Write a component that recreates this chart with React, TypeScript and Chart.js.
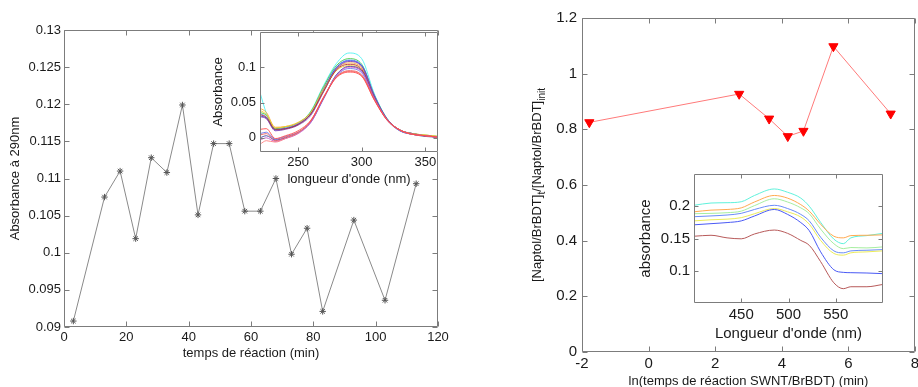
import React, { useEffect, useRef } from 'react';
import { Chart, registerables } from 'chart.js';

Chart.register(...registerables);

const FONT = "'Liberation Sans', Arial, Helvetica, sans-serif";
const TEXT = '#1a1a1a';
const BOX = '#7c7c7c';

// ---------- Left main panel ----------
const TIME_MIN = [3, 13, 18, 23, 28, 33, 38, 43, 48, 53, 58, 63, 68, 73, 78, 83, 93, 103, 113];
const ABS_290 = [0.0908, 0.1075, 0.111, 0.1019, 0.1128, 0.1108, 0.1199, 0.1051, 0.1147, 0.1147, 0.1056, 0.1056, 0.11, 0.0998, 0.1033, 0.0921, 0.1044, 0.0936, 0.1093];
const LEFT_X_TICKS = [0, 20, 40, 60, 80, 100, 120];
const LEFT_Y_TICKS = [0.09, 0.095, 0.1, 0.105, 0.11, 0.115, 0.12, 0.125, 0.13];

// ---------- Left inset (spectra) ----------
const WL1 = [220, 225, 232, 240, 250, 260, 270, 280, 290, 300, 310, 320, 330, 340, 350, 360];
const SPEC_CYAN = [0.064, 0.035, 0.012, 0.013, 0.02, 0.038, 0.074, 0.105, 0.12, 0.112, 0.062, 0.027, 0.011, 0.006, 0.004, 0.002];
const SPEC_ORANGE = [0.042, 0.036, 0.015, 0.016, 0.021, 0.036, 0.07, 0.098, 0.106, 0.099, 0.058, 0.026, 0.011, 0.006, 0.004, 0.002];
const SPEC_GREEN = [0.036, 0.032, 0.013, 0.015, 0.021, 0.037, 0.072, 0.102, 0.112, 0.104, 0.06, 0.027, 0.011, 0.006, 0.003, 0.002];
const SPEC_LBLUE = [0.034, 0.03, 0.012, 0.014, 0.02, 0.035, 0.069, 0.1, 0.11, 0.103, 0.06, 0.027, 0.011, 0.006, 0.003, 0.001];
const SPEC_BLUE = [0.031, 0.028, 0.011, 0.013, 0.019, 0.034, 0.068, 0.099, 0.109, 0.102, 0.059, 0.026, 0.011, 0.006, 0.003, 0.001];
const SPEC_DRED = [0.033, 0.029, 0.012, 0.013, 0.019, 0.034, 0.066, 0.096, 0.104, 0.097, 0.057, 0.026, 0.011, 0.005, 0.003, 0.001];
const SPEC_GOLD = [0.039, 0.033, 0.014, 0.016, 0.022, 0.036, 0.068, 0.095, 0.102, 0.096, 0.057, 0.026, 0.011, 0.006, 0.004, 0.002];
const SPEC_PURPLE = [0.03, 0.027, 0.01, 0.012, 0.018, 0.032, 0.065, 0.097, 0.108, 0.101, 0.059, 0.026, 0.011, 0.006, 0.003, 0.001];
const SPEC_RED1 = [0.012, 0.013, -0.001, 0.003, 0.01, 0.025, 0.057, 0.085, 0.093, 0.087, 0.053, 0.025, 0.011, 0.005, 0.003, 0.001];
const SPEC_RED2 = [0.004, 0.006, -0.004, 0.001, 0.008, 0.024, 0.057, 0.086, 0.095, 0.089, 0.054, 0.025, 0.011, 0.005, 0.003, 0.001];
const SPEC_BLUE2 = [0.006, 0.008, -0.002, 0.002, 0.008, 0.022, 0.055, 0.087, 0.098, 0.092, 0.055, 0.025, 0.01, 0.005, 0.003, 0.001];
const SPEC_MAGENTA = [-0.003, 0.0, -0.005, -0.001, 0.006, 0.022, 0.056, 0.088, 0.1, 0.094, 0.056, 0.026, 0.011, 0.005, 0.003, 0.001];
const SPEC_SALMON = [-0.009, -0.004, -0.006, -0.001, 0.007, 0.024, 0.058, 0.086, 0.094, 0.088, 0.054, 0.025, 0.011, 0.005, 0.003, 0.001];
const SPEC_NAVY = [0.0, 0.003, -0.003, 0.0, 0.007, 0.023, 0.056, 0.089, 0.101, 0.095, 0.057, 0.026, 0.01, 0.005, 0.002, 0.001];
const INSET1_SERIES = [SPEC_RED1, SPEC_RED2, SPEC_SALMON, SPEC_MAGENTA, SPEC_BLUE2, SPEC_NAVY, SPEC_DRED, SPEC_GOLD, SPEC_PURPLE, SPEC_BLUE, SPEC_LBLUE, SPEC_ORANGE, SPEC_GREEN, SPEC_CYAN];
const INSET1_COLORS = ['#ff4a4a', '#e86060', '#ff8080', '#c858c8', '#6a74ec', '#40409e', '#b83030', '#ecc830', '#8448b8', '#3a4adc', '#6a98ff', '#ffab30', '#40cc40', '#50f2f2'];
const INSET1_X_TICKS = [250, 300, 350];
const INSET1_Y_TICKS = [0, 0.05, 0.1];

// ---------- Right main panel ----------
const LN_TIME = [-1.78, 2.72, 3.62, 4.18, 4.65, 5.55, 7.27];
const RATIO = [0.825, 0.927, 0.838, 0.775, 0.794, 1.098, 0.856];
const RIGHT_X_TICKS = [-2, 0, 2, 4, 6, 8];
const RIGHT_Y_TICKS = [0, 0.2, 0.4, 0.6, 0.8, 1, 1.2];
const RIGHT_Y_TITLE_PARTS = [
  { text: '[Naptol/BrBDT]', sub: false },
  { text: 't', sub: true },
  { text: '/[Naptol/BrBDT]', sub: false },
  { text: 'init', sub: true },
];

// ---------- Right inset (spectra) ----------
const WL2 = [400, 418, 435, 450, 464, 485, 499, 513, 522, 534, 548, 558, 566, 583, 600];
const VIS_CYAN = [0.2015, 0.205, 0.2055, 0.207, 0.2167, 0.2268, 0.2217, 0.2126, 0.2, 0.175, 0.149, 0.142, 0.151, 0.1545, 0.158];
const VIS_ORANGE = [0.1914, 0.194, 0.195, 0.1975, 0.2066, 0.2167, 0.2126, 0.2025, 0.1924, 0.172, 0.1535, 0.151, 0.1545, 0.155, 0.1556];
const VIS_LGREEN = [0.1884, 0.189, 0.19, 0.1924, 0.201, 0.2116, 0.2066, 0.1975, 0.1884, 0.1646, 0.1419, 0.1343, 0.136, 0.1354, 0.137];
const VIS_CORNFLOWER = [0.1838, 0.185, 0.1864, 0.189, 0.195, 0.2015, 0.1965, 0.1874, 0.1773, 0.152, 0.1308, 0.1278, 0.1308, 0.1318, 0.1328];
const VIS_YELLOW = [0.1773, 0.179, 0.18, 0.1823, 0.1884, 0.1965, 0.1914, 0.1833, 0.1722, 0.147, 0.1268, 0.1242, 0.1278, 0.1293, 0.1308];
const VIS_BLUE = [0.1712, 0.173, 0.1747, 0.1773, 0.1849, 0.195, 0.1874, 0.1747, 0.1621, 0.1293, 0.1015, 0.0975, 0.097, 0.0965, 0.0955];
const VIS_BROWN = [0.1535, 0.155, 0.151, 0.1495, 0.157, 0.1631, 0.158, 0.147, 0.1394, 0.1141, 0.0813, 0.0722, 0.0752, 0.0752, 0.0788];
const INSET2_SERIES = [VIS_BROWN, VIS_BLUE, VIS_YELLOW, VIS_CORNFLOWER, VIS_LGREEN, VIS_ORANGE, VIS_CYAN];
const INSET2_COLORS = ['#b85a5a', '#4a5af5', '#ecec5a', '#6a8cf8', '#a6eea0', '#ffaa50', '#5ff2dc'];
const INSET2_X_TICKS = [450, 500, 550];
const INSET2_Y_TICKS = [0.1, 0.15, 0.2];

const fmt = (v: number) => String(parseFloat(Number(v).toFixed(4)));

// Draws a MATLAB-like axes box with inward ticks on all four sides.
const boxPlugin = {
  id: 'matlabBox',
  beforeDraw(chart: any, _a: any, opts: any) {
    if (!opts || !opts.fill) return;
    const { ctx, chartArea: a } = chart;
    ctx.save();
    ctx.fillStyle = opts.fill;
    ctx.fillRect(a.left, a.top, a.right - a.left, a.bottom - a.top);
    ctx.restore();
  },
  afterDraw(chart: any, _a: any, opts: any) {
    if (!opts || !opts.color) return;
    const { ctx, chartArea: a, scales } = chart;
    const len = opts.len || 5;
    const L = Math.round(a.left) + 0.5;
    const R = Math.round(a.right) - 0.5;
    const T = Math.round(a.top) + 0.5;
    const B = Math.round(a.bottom) - 0.5;
    ctx.save();
    ctx.strokeStyle = opts.color;
    ctx.lineWidth = 1;
    ctx.beginPath();
    ctx.rect(L, T, R - L, B - T);
    scales.x.ticks.forEach((t: any) => {
      const px = Math.round(scales.x.getPixelForValue(t.value)) + 0.5;
      ctx.moveTo(px, B);
      ctx.lineTo(px, B - len);
      ctx.moveTo(px, T);
      ctx.lineTo(px, T + len);
    });
    scales.y.ticks.forEach((t: any) => {
      const py = Math.round(scales.y.getPixelForValue(t.value)) + 0.5;
      ctx.moveTo(L, py);
      ctx.lineTo(L + len, py);
      ctx.moveTo(R, py);
      ctx.lineTo(R - len, py);
    });
    ctx.stroke();
    ctx.restore();
  },
};

// Rotated y title with subscripts
const richTitlePlugin = {
  id: 'richTitle',
  afterDraw(chart: any, _a: any, opts: any) {
    if (!opts || !opts.parts || !opts.parts.length) return;
    const ctx = chart.ctx;
    const parts = opts.parts;
    ctx.save();
    ctx.translate(opts.x, opts.y);
    ctx.rotate(-Math.PI / 2);
    ctx.textBaseline = 'alphabetic';
    ctx.textAlign = 'left';
    ctx.fillStyle = opts.color;
    const widths: number[] = [];
    let total = 0;
    for (let i = 0; i < parts.length; i++) {
      ctx.font = parts[i].sub ? opts.subFont : opts.font;
      const w = ctx.measureText(parts[i].text).width;
      widths.push(w);
      total += w;
    }
    let x = -total / 2;
    for (let i = 0; i < parts.length; i++) {
      ctx.font = parts[i].sub ? opts.subFont : opts.font;
      ctx.fillText(parts[i].text, x, parts[i].sub ? opts.subShift : 0);
      x += widths[i];
    }
    ctx.restore();
  },
};

type AxisSpec = {
  min: number;
  max: number;
  ticks: number[];
  size: number;
  tickFont: number;
  tickPad: number;
  title?: string;
  titleFont?: number;
  titlePad?: any;
};

function axis(spec: AxisSpec, horizontal: boolean) {
  return {
    type: 'linear',
    position: horizontal ? 'bottom' : 'left',
    min: spec.min,
    max: spec.max,
    afterBuildTicks: (s: any) => {
      s.ticks = spec.ticks.map((v) => ({ value: v }));
    },
    afterFit: (s: any) => {
      if (horizontal) s.height = spec.size;
      else s.width = spec.size;
    },
    grid: { display: false, drawTicks: false },
    border: { display: false },
    ticks: {
      autoSkip: false,
      maxRotation: 0,
      minRotation: 0,
      padding: spec.tickPad,
      color: TEXT,
      font: { family: FONT, size: spec.tickFont },
      callback: (v: any) => fmt(v),
    },
    title: {
      display: !!spec.title,
      text: spec.title || '',
      color: TEXT,
      font: { family: FONT, size: spec.titleFont || 13 },
      padding: spec.titlePad || 0,
    },
  };
}

function ChartBox({ left, top, width, height, config }: any) {
  const ref = useRef<HTMLCanvasElement | null>(null);
  useEffect(() => {
    if (!ref.current) return;
    const chart = new Chart(ref.current, config);
    return () => chart.destroy();
  }, []);
  return (
    <canvas
      ref={ref}
      width={width}
      height={height}
      style={{ position: 'absolute', left, top, width, height }}
    />
  );
}

function baseOptions(padding: any, x: any, y: any, plugins: any) {
  return {
    responsive: false,
    maintainAspectRatio: false,
    animation: false,
    devicePixelRatio: 1,
    layout: { padding },
    scales: { x, y },
    plugins: {
      legend: { display: false },
      tooltip: { enabled: false },
      ...plugins,
    },
  };
}

const leftMainConfig: any = {
  type: 'line',
  data: {
    datasets: [
      {
        data: TIME_MIN.map((t, i) => ({ x: t, y: ABS_290[i] })),
        borderColor: '#8a8a8a',
        borderWidth: 1,
        pointStyle: 'star',
        pointRadius: 3.2,
        pointBorderColor: '#555555',
        pointBorderWidth: 1,
        pointBackgroundColor: '#555555',
        tension: 0,
      },
    ],
  },
  options: baseOptions(
    { left: 0, top: 30, right: 22, bottom: 26 },
    axis({ min: 0, max: 120, ticks: LEFT_X_TICKS, size: 34, tickFont: 13, tickPad: 3, title: 'temps de réaction (min)', titleFont: 13, titlePad: { top: 0, bottom: 0 } }, true),
    axis({ min: 0.09, max: 0.13, ticks: LEFT_Y_TICKS, size: 64, tickFont: 13, tickPad: 3, title: 'Absorbance à 290nm', titleFont: 13, titlePad: { top: 8, bottom: 0 } }, false),
    { matlabBox: { color: BOX, len: 5 } }
  ),
  plugins: [boxPlugin],
};

const leftInsetConfig: any = {
  type: 'line',
  data: {
    datasets: INSET1_SERIES.map((s, k) => ({
      data: WL1.map((w, i) => ({ x: w, y: s[i] })),
      borderColor: INSET1_COLORS[k],
      borderWidth: 0.9,
      pointRadius: 0,
      cubicInterpolationMode: 'monotone',
    })),
  },
  options: baseOptions(
    { left: 0, top: 10, right: 2, bottom: 3 },
    axis({ min: 220, max: 360, ticks: INSET1_X_TICKS, size: 35, tickFont: 13, tickPad: 3, title: "longueur d'onde (nm)", titleFont: 13, titlePad: { top: 0, bottom: 0 } }, true),
    axis({ min: -0.02, max: 0.15, ticks: INSET1_Y_TICKS, size: 60, tickFont: 13, tickPad: 4, title: 'Absorbance', titleFont: 13, titlePad: { top: 11, bottom: 0 } }, false),
    { matlabBox: { color: BOX, len: 4, fill: '#ffffff' } }
  ),
  plugins: [boxPlugin],
};

const rightMainConfig: any = {
  type: 'line',
  data: {
    datasets: [
      {
        data: LN_TIME.map((t, i) => ({ x: t, y: RATIO[i] })),
        borderColor: '#ff7a7a',
        borderWidth: 1,
        pointStyle: 'triangle',
        pointRotation: 180,
        pointRadius: 5.3,
        pointBackgroundColor: '#ff0000',
        pointBorderColor: '#ff0000',
        pointBorderWidth: 1,
        tension: 0,
      },
    ],
  },
  options: baseOptions(
    { left: 0, top: 18, right: 15, bottom: 0 },
    axis({ min: -2, max: 8, ticks: RIGHT_X_TICKS, size: 37, tickFont: 15, tickPad: 3, title: 'ln(temps de réaction SWNT/BrBDT) (min)', titleFont: 13, titlePad: { top: 0, bottom: 0 } }, true),
    axis({ min: 0, max: 1.2, ticks: RIGHT_Y_TICKS, size: 82, tickFont: 15, tickPad: 5 }, false),
    {
      matlabBox: { color: BOX, len: 5 },
      richTitle: {
        x: 41,
        y: 185,
        parts: RIGHT_Y_TITLE_PARTS,
        font: `13px ${FONT}`,
        subFont: `10px ${FONT}`,
        subShift: 4,
        color: TEXT,
      },
    }
  ),
  plugins: [boxPlugin, richTitlePlugin],
};

const rightInsetConfig: any = {
  type: 'line',
  data: {
    datasets: INSET2_SERIES.map((s, k) => ({
      data: WL2.map((w, i) => ({ x: w, y: s[i] })),
      borderColor: INSET2_COLORS[k],
      borderWidth: 1,
      pointRadius: 0,
      cubicInterpolationMode: 'monotone',
    })),
  },
  options: baseOptions(
    { left: 0, top: 14, right: 7, bottom: 2 },
    axis({ min: 400, max: 600, ticks: INSET2_X_TICKS, size: 40, tickFont: 15, tickPad: 3, title: "Longueur d'onde (nm)", titleFont: 15, titlePad: { top: 0, bottom: 0 } }, true),
    axis({ min: 0.05, max: 0.25, ticks: INSET2_Y_TICKS, size: 74, tickFont: 15, tickPad: 4, title: 'absorbance', titleFont: 15, titlePad: { top: 17, bottom: 0 } }, false),
    { matlabBox: { color: BOX, len: 4, fill: '#ffffff' } }
  ),
  plugins: [boxPlugin],
};

export default function App() {
  return (
    <div
      style={{
        position: 'absolute',
        left: 0,
        top: 0,
        width: 918,
        height: 387,
        overflow: 'hidden',
        background: '#ffffff',
      }}
    >
      <ChartBox left={0} top={0} width={460} height={387} config={leftMainConfig} />
      <ChartBox left={500} top={0} width={430} height={389} config={rightMainConfig} />
      <ChartBox left={200} top={20} width={240} height={170} config={leftInsetConfig} />
      <ChartBox left={620} top={160} width={270} height={185} config={rightInsetConfig} />
    </div>
  );
}
